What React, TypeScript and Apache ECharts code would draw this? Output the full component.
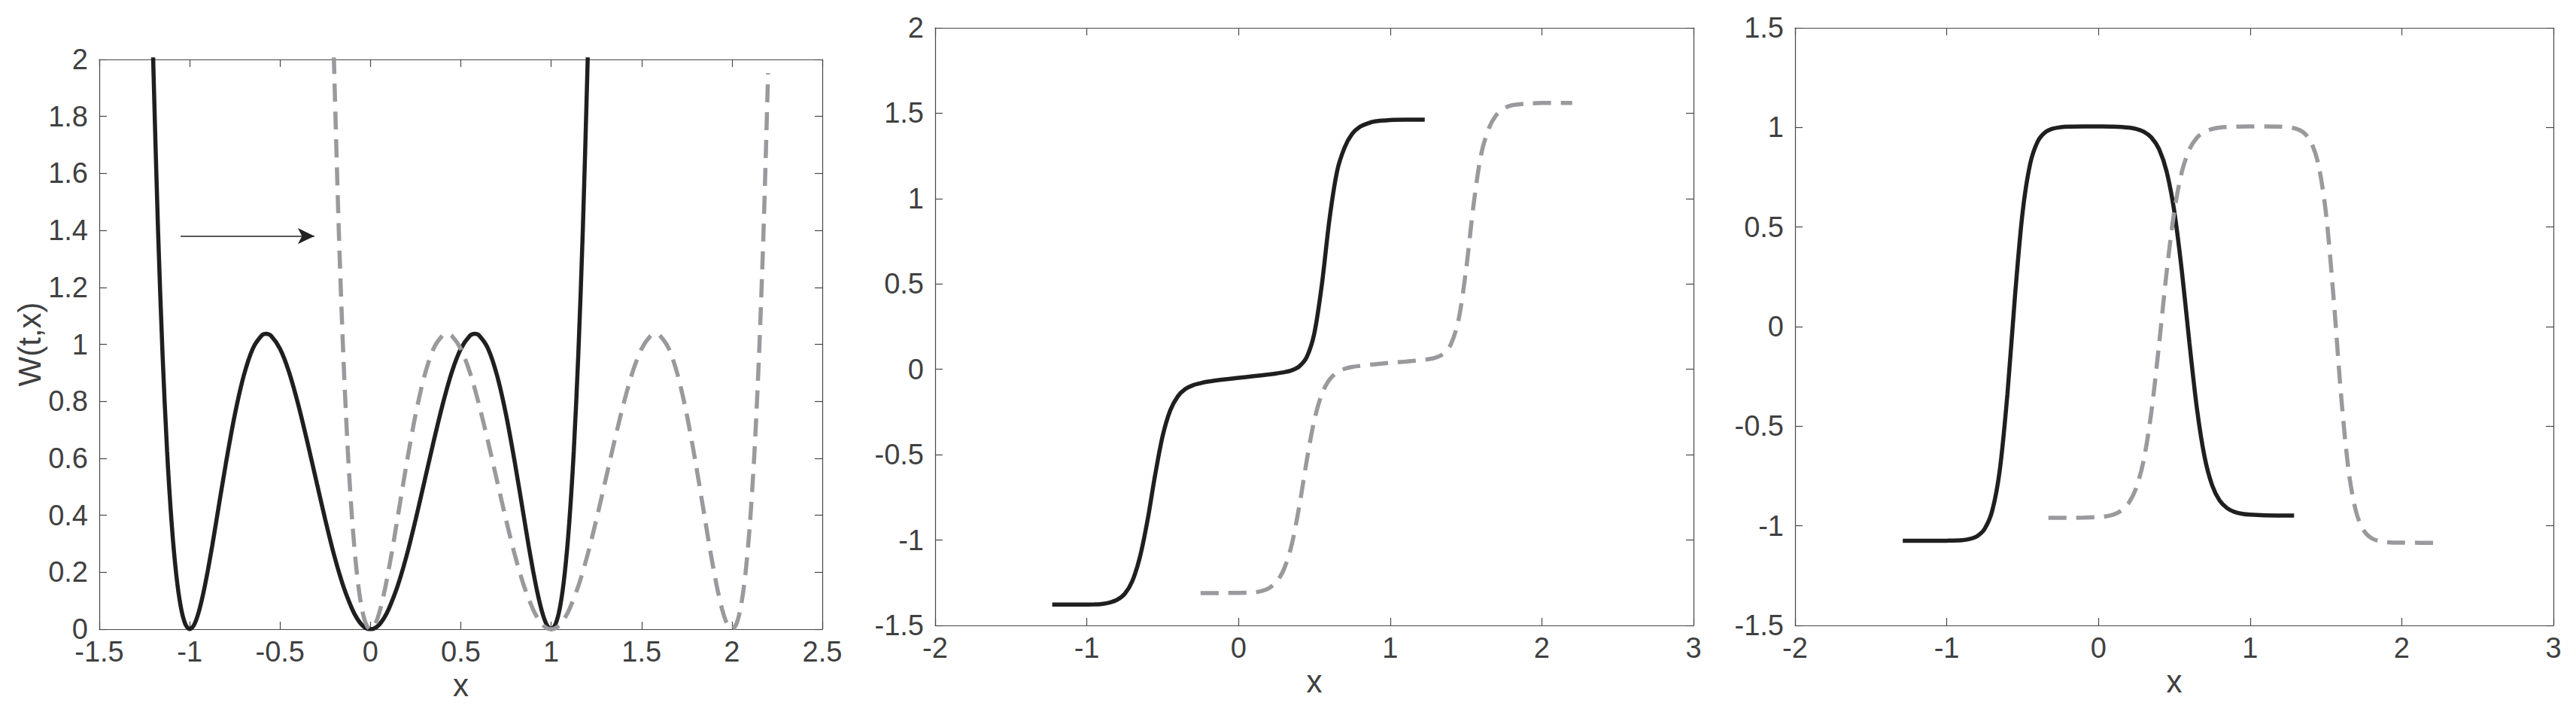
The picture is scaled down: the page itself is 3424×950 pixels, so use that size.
import React, { useEffect, useRef } from "react";
import * as echarts from "echarts";

// Panel 1: potential W(t,x) at two times
const potentialSolid: [number, number][] = [
  [-1.21, 2.208], [-1.2, 1.952], [-1.175, 1.4], [-1.15, 0.963], [-1.125, 0.625], [-1.1, 0.374],
  [-1.075, 0.196], [-1.05, 0.081], [-1.025, 0.019], [-1, 0], [-0.975, 0.016], [-0.95, 0.06],
  [-0.925, 0.125], [-0.9, 0.205], [-0.875, 0.294], [-0.85, 0.39], [-0.8, 0.581], [-0.75, 0.754],
  [-0.7, 0.892], [-0.65, 0.986], [-0.6, 1.032], [-0.577, 1.037], [-0.55, 1.03], [-0.5, 0.984],
  [-0.45, 0.902], [-0.4, 0.79], [-0.35, 0.66], [-0.3, 0.522], [-0.25, 0.385], [-0.2, 0.258],
  [-0.15, 0.151], [-0.1, 0.069], [-0.075, 0.039], [-0.05, 0.017], [-0.025, 0.004], [0, 0],
  [0.025, 0.004], [0.05, 0.017], [0.075, 0.039], [0.1, 0.069], [0.15, 0.151], [0.2, 0.258],
  [0.25, 0.385], [0.3, 0.522], [0.35, 0.66], [0.4, 0.79], [0.45, 0.902], [0.5, 0.984],
  [0.55, 1.03], [0.577, 1.037], [0.6, 1.032], [0.65, 0.986], [0.7, 0.892], [0.75, 0.754],
  [0.8, 0.581], [0.85, 0.39], [0.875, 0.294], [0.9, 0.205], [0.925, 0.125], [0.95, 0.06],
  [0.975, 0.016], [1, 0], [1.025, 0.019], [1.05, 0.081], [1.075, 0.196], [1.1, 0.374],
  [1.125, 0.625], [1.15, 0.963], [1.175, 1.4], [1.2, 1.952], [1.21, 2.208],
];

const potentialDashed: [number, number][] = [
  [-0.21, 2.208], [-0.2, 1.952], [-0.175, 1.4], [-0.15, 0.963], [-0.125, 0.625], [-0.1, 0.374],
  [-0.075, 0.196], [-0.05, 0.081], [-0.025, 0.019], [0, 0], [0.025, 0.016], [0.05, 0.06],
  [0.075, 0.125], [0.1, 0.205], [0.125, 0.294], [0.15, 0.39], [0.2, 0.581], [0.25, 0.754],
  [0.3, 0.892], [0.35, 0.986], [0.4, 1.032], [0.423, 1.037], [0.45, 1.03], [0.5, 0.984],
  [0.55, 0.902], [0.6, 0.79], [0.65, 0.66], [0.7, 0.522], [0.75, 0.385], [0.8, 0.258],
  [0.85, 0.151], [0.9, 0.069], [0.925, 0.039], [0.95, 0.017], [0.975, 0.004], [1, 0],
  [1.025, 0.004], [1.05, 0.017], [1.075, 0.039], [1.1, 0.069], [1.15, 0.151], [1.2, 0.258],
  [1.25, 0.385], [1.3, 0.522], [1.35, 0.66], [1.4, 0.79], [1.45, 0.902], [1.5, 0.984],
  [1.55, 1.03], [1.577, 1.037], [1.6, 1.032], [1.65, 0.986], [1.7, 0.892], [1.75, 0.754],
  [1.8, 0.581], [1.85, 0.39], [1.875, 0.294], [1.9, 0.205], [1.925, 0.125], [1.95, 0.06],
  [1.975, 0.016], [2, 0], [2.025, 0.019], [2.05, 0.081], [2.075, 0.196], [2.1, 0.374],
  [2.125, 0.625], [2.15, 0.963], [2.175, 1.4], [2.2, 1.952],
];

// Arrow annotation in panel 1 (data coordinates)
const arrowStart: [number, number] = [-1.05, 1.38];
const arrowEnd: [number, number] = [-0.31, 1.38];

// Panel 2: staircase profiles
const stairSolid: [number, number][] = [
  [-1.228, -1.378], [-1.15, -1.378], [-1.05, -1.378], [-0.95, -1.377], [-0.9, -1.374], [-0.85, -1.366],
  [-0.8, -1.35], [-0.75, -1.315], [-0.7, -1.24], [-0.65, -1.1], [-0.6, -0.885], [-0.55, -0.621],
  [-0.5, -0.39], [-0.45, -0.24], [-0.4, -0.158], [-0.35, -0.115], [-0.3, -0.093], [-0.25, -0.081],
  [-0.2, -0.072], [-0.1, -0.06], [0, -0.05], [0.1, -0.04], [0.2, -0.03], [0.25, -0.024],
  [0.3, -0.017], [0.35, -0.006], [0.4, 0.017], [0.45, 0.072], [0.5, 0.211], [0.55, 0.499],
  [0.6, 0.88], [0.65, 1.16], [0.7, 1.3], [0.75, 1.38], [0.8, 1.42], [0.85, 1.44],
  [0.9, 1.452], [1.0, 1.46], [1.1, 1.462], [1.228, 1.462],
];

const stairDashed: [number, number][] = [
  [-0.25, -1.31], [-0.1, -1.31], [0, -1.309], [0.1, -1.306], [0.15, -1.299], [0.2, -1.282],
  [0.25, -1.246], [0.3, -1.17], [0.35, -1.03], [0.4, -0.805], [0.45, -0.534], [0.5, -0.297],
  [0.55, -0.143], [0.6, -0.06], [0.65, -0.018], [0.7, 0.003], [0.75, 0.014], [0.8, 0.02],
  [0.9, 0.03], [1.0, 0.038], [1.1, 0.045], [1.2, 0.054], [1.25, 0.059], [1.3, 0.069],
  [1.35, 0.091], [1.4, 0.146], [1.45, 0.286], [1.5, 0.579], [1.55, 0.965], [1.6, 1.26],
  [1.65, 1.41], [1.7, 1.49], [1.75, 1.528], [1.8, 1.546], [1.9, 1.556], [2.0, 1.56], [2.2, 1.56],
];

// Panel 3: plateau profiles
const bumpSolid: [number, number][] = [
  [-1.29, -1.075], [-1.1, -1.075], [-1.0, -1.0745], [-0.9, -1.072], [-0.85, -1.066], [-0.8, -1.052],
  [-0.75, -1.015], [-0.7, -0.924], [-0.65, -0.718], [-0.6, -0.339], [-0.55, 0.154], [-0.5, 0.573],
  [-0.45, 0.817], [-0.4, 0.93], [-0.35, 0.976], [-0.3, 0.994], [-0.25, 1.001], [-0.2, 1.004],
  [-0.1, 1.005], [0, 1.005], [0.1, 1.004], [0.2, 0.999], [0.25, 0.992], [0.3, 0.978],
  [0.35, 0.949], [0.4, 0.891], [0.45, 0.778], [0.5, 0.58], [0.55, 0.28], [0.6, -0.081],
  [0.65, -0.414], [0.7, -0.654], [0.75, -0.797], [0.8, -0.874], [0.85, -0.912], [0.9, -0.931],
  [0.95, -0.94], [1.0, -0.944], [1.1, -0.947], [1.29, -0.948],
];

const bumpDashed: [number, number][] = [
  [-0.33, -0.96], [-0.2, -0.96], [-0.1, -0.959], [0, -0.956], [0.05, -0.952], [0.1, -0.943],
  [0.15, -0.924], [0.2, -0.885], [0.25, -0.808], [0.3, -0.665], [0.35, -0.423], [0.4, -0.088],
  [0.45, 0.275], [0.5, 0.577], [0.55, 0.777], [0.6, 0.89], [0.65, 0.949], [0.7, 0.978],
  [0.75, 0.992], [0.8, 0.999], [0.9, 1.004], [1.0, 1.005], [1.1, 1.005], [1.2, 1.004],
  [1.25, 1.001], [1.3, 0.994], [1.35, 0.976], [1.4, 0.93], [1.45, 0.816], [1.5, 0.571],
  [1.55, 0.15], [1.6, -0.345], [1.65, -0.726], [1.7, -0.933], [1.75, -1.024], [1.8, -1.062],
  [1.85, -1.076], [1.9, -1.082], [2.0, -1.0845], [2.27, -1.085],
];

// Axis ranges: [min, max, interval]
const xRange1 = [-1.5, 2.5, 0.5];
const yRange1 = [0, 2, 0.2];
const xRange2 = [-2, 3, 1];
const yRange2 = [-1.5, 2, 0.5];
const xRange3 = [-2, 3, 1];
const yRange3 = [-1.5, 1.5, 0.5];

const xLabel = "x";
const yLabel1 = "W(t,x)";

const FONT = "'Liberation Sans', Arial, Helvetica, sans-serif";
const AXIS_COLOR = "#474747";
const TEXT_COLOR = "#404040";
const SOLID_COLOR = "#1f1f1f";
const DASH_COLOR = "#9a9a9e";

const panels = [
  { grid: { left: 132, top: 79, width: 961, height: 757 }, x: xRange1, y: yRange1, yName: yLabel1, solid: potentialSolid, dashed: potentialDashed, arrow: true },
  { grid: { left: 1243, top: 37, width: 1008, height: 794 }, x: xRange2, y: yRange2, yName: "", solid: stairSolid, dashed: stairDashed, arrow: false },
  { grid: { left: 2386, top: 37, width: 1008, height: 794 }, x: xRange3, y: yRange3, yName: "", solid: bumpSolid, dashed: bumpDashed, arrow: false },
];

function buildOption() {
  const grid: any[] = [];
  const xAxis: any[] = [];
  const yAxis: any[] = [];
  const series: any[] = [];
  const lineStyle = { color: AXIS_COLOR, width: 1.2 };
  const labelStyle = { color: TEXT_COLOR, fontSize: 38, fontFamily: FONT, lineHeight: 28 };

  panels.forEach((p, i) => {
    grid.push({ ...p.grid, show: false, containLabel: false, outerBoundsMode: "none" });
    const xBase = {
      type: "value", gridIndex: i, min: p.x[0], max: p.x[1], interval: p.x[2],
      axisLine: { show: true, onZero: false, lineStyle },
      axisTick: { show: true, inside: true, length: 10, lineStyle },
      splitLine: { show: false },
    };
    xAxis.push({
      ...xBase, position: "bottom",
      axisLabel: { ...labelStyle, margin: 16, showMinLabel: true, showMaxLabel: true },
      name: xLabel, nameLocation: "middle", nameGap: 53,
      nameTextStyle: { color: TEXT_COLOR, fontSize: 42, fontFamily: FONT },
    });
    xAxis.push({ ...xBase, position: "top", axisLabel: { show: false } });
    const yBase = {
      type: "value", gridIndex: i, min: p.y[0], max: p.y[1], interval: p.y[2],
      axisLine: { show: true, onZero: false, lineStyle },
      axisTick: { show: true, inside: true, length: 10, lineStyle },
      splitLine: { show: false },
    };
    yAxis.push({
      ...yBase, position: "left",
      axisLabel: { ...labelStyle, margin: 15, padding: [0, 0, 7, 0], showMinLabel: true, showMaxLabel: true },
      name: p.yName, nameLocation: "middle", nameGap: 72,
      nameTextStyle: { color: TEXT_COLOR, fontSize: 42, fontFamily: FONT, lineHeight: 34 },
    });
    yAxis.push({ ...yBase, position: "right", axisLabel: { show: false } });

    const solidSeries: any = {
      type: "line", xAxisIndex: 2 * i, yAxisIndex: 2 * i, data: p.solid,
      showSymbol: false, smooth: 0.3, clip: true,
      lineStyle: { color: SOLID_COLOR, width: 5.5 }, z: 3,
    };
    if (p.arrow) {
      solidSeries.markLine = {
        silent: true, symbol: ["none", "arrow"], symbolSize: [16, 22],
        lineStyle: { color: "#222222", width: 1.6, type: "solid" },
        label: { show: false }, emphasis: { disabled: true },
        data: [[{ coord: arrowStart }, { coord: arrowEnd }]],
      };
    }
    series.push(solidSeries);
    series.push({
      type: "line", xAxisIndex: 2 * i, yAxisIndex: 2 * i, data: p.dashed,
      showSymbol: false, smooth: 0.3, clip: true,
      lineStyle: { color: DASH_COLOR, width: 5.5, type: [24, 13] }, z: 4,
    });
  });

  return { animation: false, backgroundColor: "#ffffff", grid, xAxis, yAxis, series };
}

export default function App() {
  const ref = useRef<HTMLDivElement>(null);
  useEffect(() => {
    if (!ref.current) return;
    const chart = echarts.init(ref.current, undefined, { renderer: "svg" });
    chart.setOption(buildOption() as any);
    return () => chart.dispose();
  }, []);
  return (
    <div
      ref={ref}
      style={{ position: "fixed", left: 0, top: 0, width: 3424, height: 950, background: "#fff" }}
    />
  );
}
